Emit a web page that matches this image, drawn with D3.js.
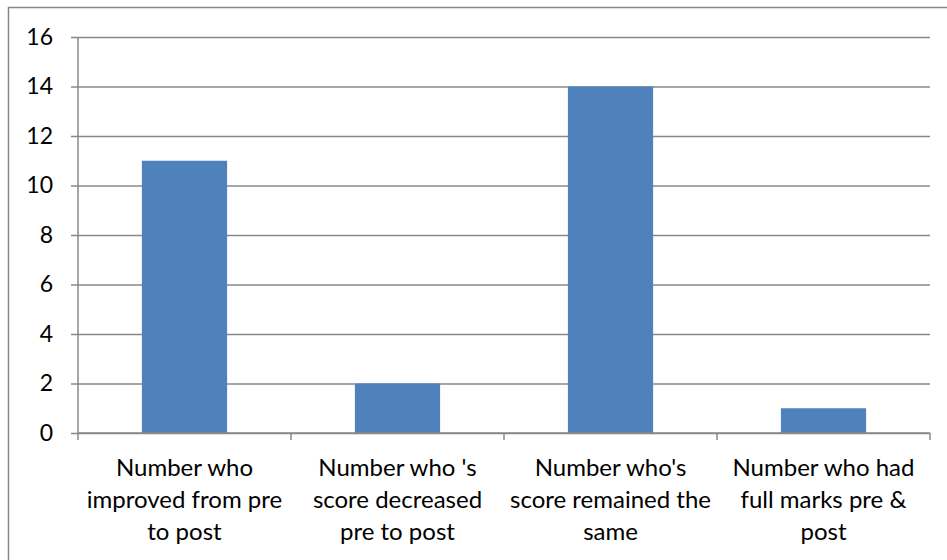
<!DOCTYPE html>
<html>
<head>
<meta charset="utf-8">
<script src="https://cdn.jsdelivr.net/npm/d3@7"></script>
<style>
  html, body { margin: 0; padding: 0; background: #fff; }
  svg { display: block; }
  text { font-family: Lato, "Open Sans", sans-serif; fill: #000; }
</style>
</head>
<body>
<svg id="chart" width="947" height="560"></svg>
<script>
// Chart data
const categories = [
  ["Number who", "improved from pre", "to post"],
  ["Number who 's", "score decreased", "pre to post"],
  ["Number who's", "score remained the", "same"],
  ["Number who had", "full marks pre &", "post"]
];
const values = [11, 2, 14, 1];
const yTicks = [0, 2, 4, 6, 8, 10, 12, 14, 16];

const svg = d3.select("#chart");
const W = 947, H = 560;
const plot = { left: 78, right: 930, top: 37, bottom: 433 };

// Outer chart frame
svg.append("rect")
  .attr("x", 8.5).attr("y", 7.5)
  .attr("width", W + 10).attr("height", H + 10)
  .attr("fill", "none").attr("stroke", "#888").attr("stroke-width", 1.5);

const x = d3.scaleBand()
  .domain(d3.range(categories.length))
  .range([plot.left, plot.right])
  .paddingInner(0.6).paddingOuter(0.3);
const xOuter = d3.scaleBand()
  .domain(d3.range(categories.length))
  .range([plot.left, plot.right]);
const y = d3.scaleLinear().domain([0, 16]).range([plot.bottom, plot.top]);

// Horizontal gridlines with tick marks on the left
const yAxis = d3.axisLeft(y).tickValues(yTicks)
  .tickSize(-(plot.right - plot.left)).tickPadding(25);
const gy = svg.append("g").attr("transform", `translate(${plot.left},0)`).call(yAxis);
gy.select(".domain").remove();
gy.selectAll(".tick line").attr("stroke", "#888").attr("stroke-width", 1.5)
  .attr("x1", -7);
gy.selectAll(".tick text").style("font-size", "23px")
  .attr("font-family", "Lato, 'Open Sans', sans-serif").attr("fill", "#000");

// Vertical axis line
svg.append("line")
  .attr("x1", plot.left).attr("x2", plot.left)
  .attr("y1", plot.top).attr("y2", plot.bottom)
  .attr("stroke", "#888").attr("stroke-width", 1.5);

// Bars
svg.append("g").selectAll("rect").data(values).join("rect")
  .attr("x", (d, i) => x(i))
  .attr("width", x.bandwidth())
  .attr("y", d => y(d))
  .attr("height", d => y(0) - y(d))
  .attr("fill", "#4F81BD");

// Category axis with tick marks between categories
const bounds = d3.range(categories.length + 1).map(i =>
  i < categories.length ? xOuter(i) : xOuter(i - 1) + xOuter.bandwidth());
svg.append("line")
  .attr("x1", plot.left).attr("x2", plot.right)
  .attr("y1", plot.bottom).attr("y2", plot.bottom)
  .attr("stroke", "#888").attr("stroke-width", 1.5);
svg.append("g").selectAll("line").data(bounds).join("line")
  .attr("x1", d => d).attr("x2", d => d)
  .attr("y1", plot.bottom).attr("y2", plot.bottom + 7)
  .attr("stroke", "#888").attr("stroke-width", 1.5);

// Multi-line category labels
const labels = svg.append("g").selectAll("text").data(categories).join("text")
  .attr("text-anchor", "middle")
  .style("font-size", "24px");
labels.each(function(lines, i) {
  const cx = xOuter(i) + xOuter.bandwidth() / 2;
  d3.select(this).selectAll("tspan").data(lines).join("tspan")
    .attr("x", cx)
    .attr("y", (d, j) => 476 + j * 32)
    .text(d => d);
});
</script>
</body>
</html>
